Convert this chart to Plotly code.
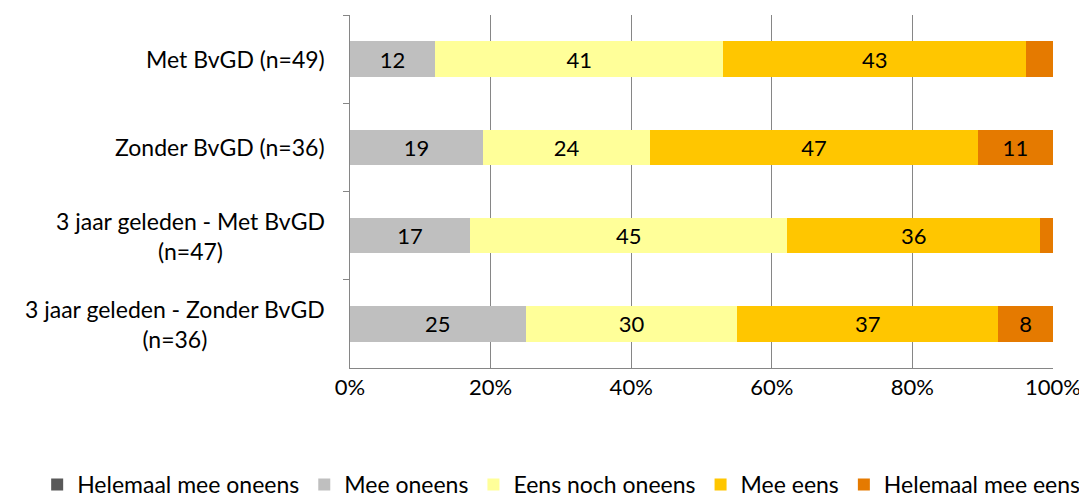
import plotly.graph_objects as go

categories = [
    "Met BvGD (n=49)",
    "Zonder BvGD (n=36)",
    "3 jaar geleden - Met BvGD<br>(n=47)",
    "3 jaar geleden - Zonder BvGD<br>(n=36)",
]
series_names = ["Helemaal mee oneens", "Mee oneens", "Eens noch oneens", "Mee eens", "Helemaal mee eens"]
helemaal_mee_oneens = [0, 0, 0, 0]
mee_oneens = [12.1, 18.9, 17.1, 25.0]
eens_noch_oneens = [41.0, 23.8, 45.1, 30.1]
mee_eens = [43.1, 46.6, 36.0, 37.1]
helemaal_mee_eens = [3.8, 10.7, 1.8, 7.8]
tick_vals = [0, 20, 40, 60, 80, 100]
tick_text = ["0%", "20%", "40%", "60%", "80%", "100%"]

colors = ["#595959", "#BFBFBF", "#FFFF99", "#FFC600", "#E57A00"]
series = [helemaal_mee_oneens, mee_oneens, eens_noch_oneens, mee_eens, helemaal_mee_eens]

FONT = "Lato, 'Open Sans', sans-serif"

fig = go.Figure()
for name, vals, col in zip(series_names, series, colors):
    labels = [f"{v:.0f}" if v >= 5 else "" for v in vals]
    fig.add_trace(go.Bar(
        y=categories, x=vals, name=name, orientation="h",
        marker=dict(color=col, line=dict(width=0)),
        text=labels, textposition="inside", insidetextanchor="middle",
        textangle=0, constraintext="none",
        textfont=dict(family=FONT, size=22, color="#000000"),
        hoverinfo="x+name",
    ))

for cat in categories:
    fig.add_annotation(
        x=0, xref="paper", xanchor="right", xshift=-23,
        y=cat, yref="y", yanchor="middle",
        text=cat, showarrow=False, align="center",
        font=dict(family=FONT, size=23, color="#000000"),
    )

# page body has an 8px margin, so the figure is 8px smaller and margins shifted
fig.update_layout(
    width=1079, height=493,
    barmode="stack", bargap=0.6,
    paper_bgcolor="white", plot_bgcolor="white",
    margin=dict(l=342, r=34, t=7, b=133, autoexpand=False),
    font=dict(family=FONT, size=21, color="#000000"),
    showlegend=True,
    legend=dict(
        orientation="h", traceorder="normal",
        xref="paper", x=-0.445, xanchor="left",
        yref="paper", y=-0.33, yanchor="middle",
        font=dict(family=FONT, size=23, color="#000000"),
        itemwidth=30, tracegroupgap=0,
        bgcolor="rgba(0,0,0,0)",
    ),
    xaxis=dict(
        range=[0, 100], tickvals=tick_vals, ticktext=tick_text,
        showgrid=True, gridcolor="#868686", gridwidth=1,
        showline=True, linecolor="#868686", linewidth=1,
        ticks="", zeroline=False, automargin=False,
        tickfont=dict(family=FONT, size=22, color="#000000"),
        fixedrange=True,
    ),
    yaxis=dict(
        autorange="reversed", showticklabels=False, automargin=False,
        showline=True, linecolor="#868686", linewidth=1,
        ticks="outside", tickson="boundaries", ticklen=6, tickcolor="#868686",
        showgrid=False, fixedrange=True,
    ),
)

fig.write_html("out.html")
